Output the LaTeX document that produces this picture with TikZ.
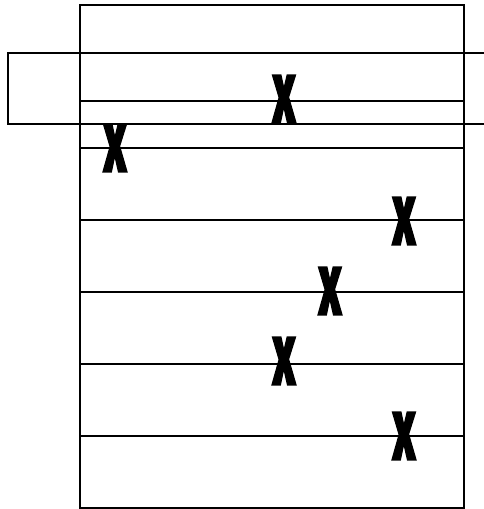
\documentclass[tikz,border=0pt]{standalone}
\usepackage{fontspec}
\newfontfamily\markfont[RawFeature={embolden=3}]{Fira Sans Black}

\begin{document}
\begin{tikzpicture}[
          x=1pt, y=-1pt,
          rule/.style={line width=1.8pt},
          xmark/.style={inner sep=0pt, font=\markfont\fontsize{68}{68}\selectfont, xscale=0.56}
        ]
          \useasboundingbox (0,0) rectangle (484,509);
          \clip (0,0) rectangle (484,509);

          % frame and rows
          \draw[rule] (80,5) rectangle (464,508);
          \draw[rule] (80,101) -- (464,101);
          \foreach \y in {148,220,292,364,436}
            \draw[rule] (80,\y) -- (464,\y);

          % overlapping band
          \draw[rule] (8,53) rectangle (500,124);

          % marks
          \node[xmark] (m1) at (284,99) {X};
          \node[xmark] (m2) at (115,148) {X};
          \node[xmark] (m3) at (404,221) {X};
          \node[xmark] (m4) at (330,291) {X};
          \node[xmark] (m5) at (284,361) {X};
          \node[xmark] (m6) at (404,436) {X};
\end{tikzpicture}
\end{document}
